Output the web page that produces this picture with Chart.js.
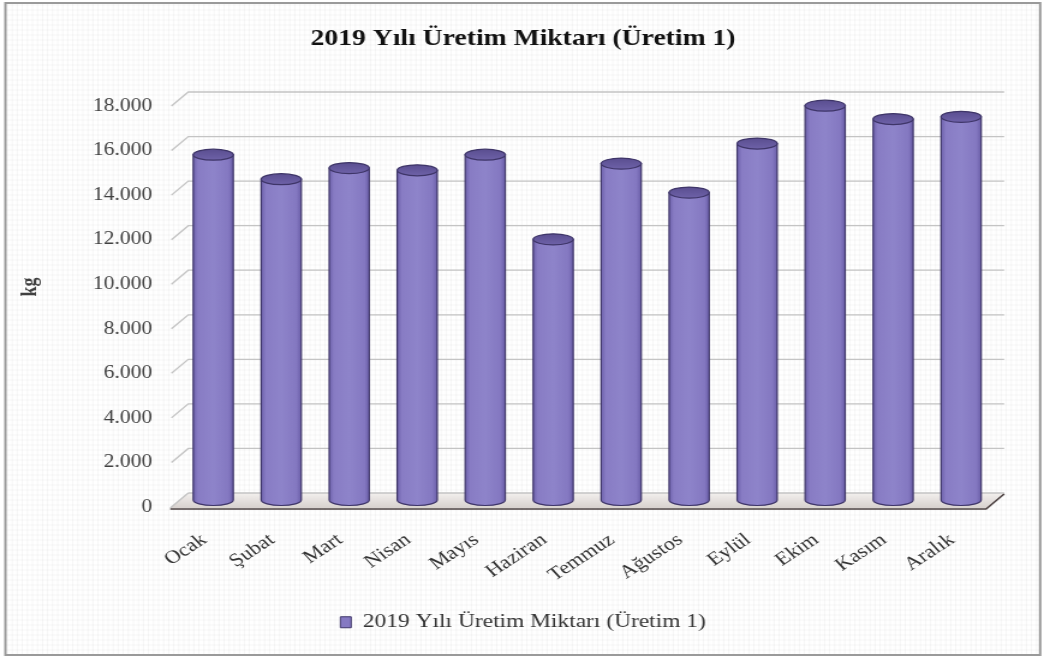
<!DOCTYPE html>
<html><head><meta charset="utf-8">
<script src="https://cdn.jsdelivr.net/npm/chart.js@4"></script>
<style>
html,body{margin:0;padding:0;background:#fff;overflow:hidden;width:1045px;height:657px}
#wrap{position:absolute;left:0;top:0;width:870.83px;height:657px;transform:scaleX(1.2);transform-origin:0 0}
</style></head><body>
<div id="wrap"><canvas id="c"></canvas></div>
<script>
const categories = ['Ocak','Şubat','Mart','Nisan','Mayıs','Haziran','Temmuz','Ağustos','Eylül','Ekim','Kasım','Aralık'];
const production = [15500,14400,14900,14800,15500,11700,15100,13800,16000,17700,17100,17200];
const yMin = 0, yMax = 18000, yStep = 2000;
const chartTitle = '2019 Yılı Üretim Miktarı (Üretim 1)';
const seriesLabel = '2019 Yılı Üretim Miktarı (Üretim 1)';
const yAxisTitle = 'kg';

const SERIF = '"Liberation Serif", "Times New Roman", serif';
const DX = 15, DY = -14; // depth offset of the 3D floor/walls
const fmt = v => String(v).replace(/\B(?=(\d{3})+(?!\d))/g, '.');

const decor = {
  id: 'decor',
  beforeDraw(chart) {
    const ctx = chart.ctx, W = chart.width, H = chart.height;
    ctx.save();
    ctx.fillStyle = '#ffffff';
    ctx.fillRect(0, 0, W, H);
    ctx.strokeStyle = 'rgba(0,0,0,0.035)';
    ctx.lineWidth = 1;
    ctx.beginPath();
    for (let x = 6; x < W - 4; x += 4.2) { ctx.moveTo(x, 4); ctx.lineTo(x, H - 3); }
    for (let y = 5; y < H - 3; y += 5) { ctx.moveTo(5, y); ctx.lineTo(W - 4, y); }
    ctx.stroke();
    ctx.strokeStyle = '#9a9a9a';
    ctx.lineWidth = 2;
    ctx.strokeRect(4.5, 3, W - 9.5, H - 5);
    ctx.restore();
  },
  beforeDatasetsDraw(chart) {
    const ctx = chart.ctx, ys = chart.scales.y, a = chart.chartArea;
    const y0 = ys.getPixelForValue(0);
    ctx.save();
    const g = ctx.createLinearGradient(0, y0 + DY, 0, y0);
    g.addColorStop(0, '#f3f0ee');
    g.addColorStop(1, '#d9d3d0');
    ctx.fillStyle = g;
    ctx.beginPath();
    ctx.moveTo(a.left, y0 + 1);
    ctx.lineTo(a.right, y0 + 1);
    ctx.lineTo(a.right + DX, y0 + DY);
    ctx.lineTo(a.left + DX, y0 + DY);
    ctx.closePath();
    ctx.fill();
    ctx.strokeStyle = '#c4c4c4';
    ctx.lineWidth = 1.3;
    ctx.beginPath();
    ys.ticks.forEach(t => {
      const y = ys.getPixelForValue(t.value);
      if (t.value === 0) {
        ctx.moveTo(a.left + DX, y + DY); ctx.lineTo(a.right + DX, y + DY);
        ctx.moveTo(a.left, y + 1); ctx.lineTo(a.left + DX, y + DY);
      } else {
        ctx.moveTo(a.left + 1, y); ctx.lineTo(a.left + DX, y + DY);
        ctx.lineTo(a.right + DX, y + DY);
      }
    });
    ctx.stroke();
    ctx.strokeStyle = '#4a3f3f';
    ctx.lineWidth = 1.6;
    ctx.beginPath();
    ctx.moveTo(a.left, y0 + 2);
    ctx.lineTo(a.right, y0 + 2);
    ctx.lineTo(a.right + DX, y0 + DY + 1);
    ctx.stroke();
    ctx.restore();
  },
  beforeDatasetDraw() { return false; },
  afterDatasetsDraw(chart) {
    const ctx = chart.ctx;
    const meta = chart.getDatasetMeta(0);
    const ry = 5.5;
    ctx.save();
    meta.data.forEach(el => {
      const cx = el.x + DX / 2, rx = el.width / 2;
      const top = el.y + DY / 2, bot = el.base + DY / 2;
      const body = ctx.createLinearGradient(cx - rx, 0, cx + rx, 0);
      body.addColorStop(0, '#6d61ab');
      body.addColorStop(0.12, '#887cc4');
      body.addColorStop(0.5, '#8e84ca');
      body.addColorStop(0.88, '#8478c1');
      body.addColorStop(1, '#6a5ea8');
      ctx.beginPath();
      ctx.moveTo(cx - rx, top);
      ctx.lineTo(cx - rx, bot);
      ctx.ellipse(cx, bot, rx, ry, 0, Math.PI, 0, true);
      ctx.lineTo(cx + rx, top);
      ctx.closePath();
      ctx.fillStyle = body;
      ctx.fill();
      ctx.strokeStyle = '#3e3568';
      ctx.lineWidth = 1.2;
      ctx.stroke();
      ctx.beginPath();
      ctx.ellipse(cx, top, rx, ry, 0, 0, Math.PI * 2);
      const cap = ctx.createLinearGradient(0, top - ry, 0, top + ry);
      cap.addColorStop(0, '#5a4e90');
      cap.addColorStop(1, '#6e62a8');
      ctx.fillStyle = cap;
      ctx.fill();
      ctx.strokeStyle = '#3e3568';
      ctx.stroke();
    });
    ctx.restore();
  },
  afterDraw(chart) {
    const ctx = chart.ctx;
    ctx.save();
    ctx.translate(25, 287);
    ctx.rotate(-Math.PI / 2);
    ctx.font = 'bold 18px ' + SERIF;
    ctx.fillStyle = '#404040';
    ctx.textAlign = 'center';
    ctx.textBaseline = 'middle';
    ctx.fillText(yAxisTitle, 0, 0);
    ctx.restore();
  }
};

new Chart(document.getElementById('c'), {
  type: 'bar',
  data: {
    labels: categories,
    datasets: [{
      label: seriesLabel,
      data: production,
      backgroundColor: '#8579c2',
      borderColor: '#3e3568',
      borderWidth: 1,
      categoryPercentage: 1,
      barPercentage: 0.59
    }]
  },
  options: {
    responsive: true,
    maintainAspectRatio: false,
    animation: false,
    events: [],
    layout: { padding: { left: 0, right: 0, top: 0, bottom: 15 } },
    plugins: {
      title: {
        display: true, text: chartTitle, color: '#111',
        font: { family: SERIF, size: 23, weight: 'bold', lineHeight: 1.2 },
        padding: { top: 25, bottom: 53.4 }
      },
      legend: {
        display: true, position: 'bottom',
        labels: { color: '#333', font: { family: SERIF, size: 19.5 }, boxWidth: 9, boxHeight: 11, padding: 10 }
      },
      tooltip: { enabled: false }
    },
    scales: {
      x: {
        grid: { display: false, drawTicks: false },
        border: { display: false },
        ticks: { color: '#333', font: { family: SERIF, size: 18.5 }, minRotation: 38, maxRotation: 38, padding: 22, autoSkip: false },
        afterFit(s) { s.height = 95.5; }
      },
      y: {
        min: yMin, max: yMax,
        grid: { display: false, drawTicks: false },
        border: { display: false },
        ticks: { stepSize: yStep, color: '#404040', font: { family: SERIF, size: 18 }, padding: 15, callback: v => fmt(v) },
        afterFit(s) { s.width = 141.7; }
      },
      yRight: {
        position: 'right',
        display: true,
        grid: { display: false, drawTicks: false },
        border: { display: false },
        ticks: { display: false },
        afterFit(s) { s.width = 50; }
      }
    }
  },
  plugins: [decor]
});
</script>
</body></html>
